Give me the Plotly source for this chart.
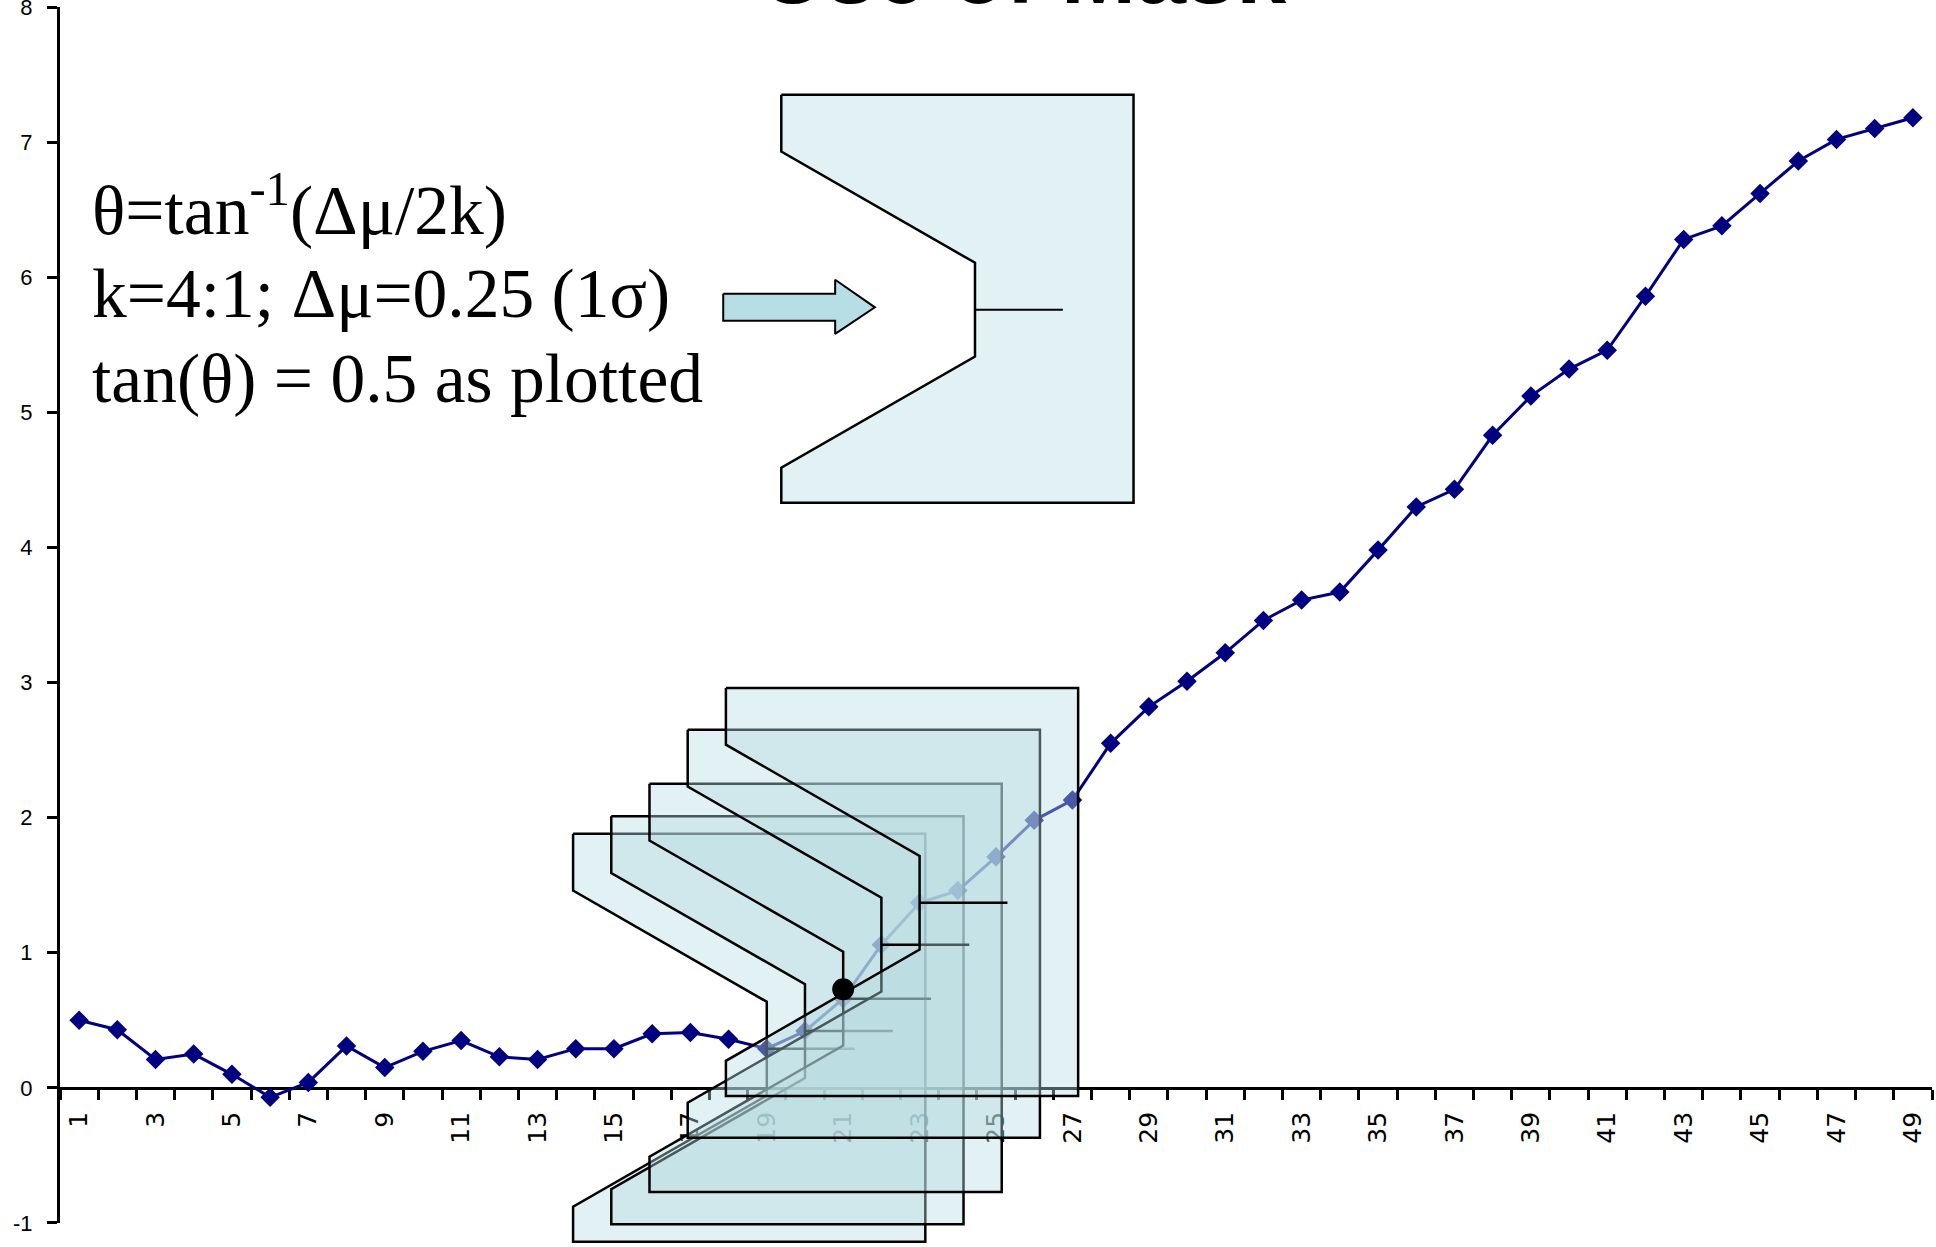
import plotly.graph_objects as go

# ---------------- data ----------------
categories = list(range(1, 50))
values = [0.50, 0.43, 0.21, 0.25, 0.10, -0.07, 0.04, 0.31, 0.15, 0.27,
          0.35, 0.23, 0.21, 0.29, 0.29, 0.40, 0.41, 0.36, 0.29, 0.42,
          0.66, 1.06, 1.37, 1.46, 1.71, 1.98, 2.13, 2.55, 2.82, 3.01,
          3.22, 3.46, 3.61, 3.67, 3.98, 4.30, 4.43, 4.83, 5.12, 5.32,
          5.46, 5.86, 6.28, 6.38, 6.62, 6.86, 7.02, 7.10, 7.18]
tick_label_vals = list(range(1, 50, 2))
tick_labels = [str(v) for v in tick_label_vals]
y_ticks = list(range(-1, 9))
y_tick_labels = [str(v) for v in y_ticks]

mask_points = [19, 20, 21, 22, 23]       # V-mask placed at these observations
highlight_x = [21]                        # signalled point
highlight_y = [0.73]
template_vertex = (24.45, 5.76)           # free-standing illustrative mask

title_text = "Use of Mask"
note_lines = ["θ=tan<sup>-1</sup>(Δμ/2k)",
              "k=4:1; Δμ=0.25 (1σ)",
              "tan(θ) = 0.5 as plotted"]

# ---------------- geometry / style ----------------
YMIN, YMAX = -1.178, 8.0
XMIN, XMAX = 0.5, 49.5
MASK_L, MASK_R = 5.07, 4.15        # horizontal extent left/right of vertex (categories)
MASK_T, MASK_B = 1.59, 1.43        # vertical extent above/below vertex
ARM_OUT, ARM_IN = 1.17, 0.347      # arm offsets at left edge / at vertex
LEAD = 2.30                        # lead-distance line length
MASK_FILL = "rgba(183,221,224,0.40)"
ARROW = [(17.86, 5.877), (20.79, 5.877), (20.79, 5.981), (21.83, 5.777),
         (20.79, 5.581), (20.79, 5.677), (17.86, 5.677)]

NAVY = "#000080"


def mask_polygon(xv, yv):
    xs = [xv - MASK_L, xv + MASK_R, xv + MASK_R, xv - MASK_L, xv - MASK_L,
          xv, xv, xv - MASK_L, xv - MASK_L]
    ys = [yv + MASK_T, yv + MASK_T, yv - MASK_B, yv - MASK_B, yv - ARM_OUT,
          yv - ARM_IN, yv + ARM_IN, yv + ARM_OUT, yv + MASK_T]
    return xs, ys


fig = go.Figure()

# data series
fig.add_trace(go.Scatter(
    x=categories, y=values, mode="lines+markers",
    line=dict(color=NAVY, width=3),
    marker=dict(symbol="diamond", size=15, color=NAVY),
    hoverinfo="x+y", showlegend=False))

# sequence of V-masks
for p in mask_points:
    xv, yv = p, values[p - 1]
    xs, ys = mask_polygon(xv, yv)
    fig.add_trace(go.Scatter(x=xs, y=ys, mode="lines", fill="toself",
                             fillcolor=MASK_FILL,
                             line=dict(color="black", width=2.5),
                             hoverinfo="skip", showlegend=False))
    fig.add_trace(go.Scatter(x=[xv, xv + LEAD], y=[yv, yv], mode="lines",
                             line=dict(color="black", width=2.5),
                             hoverinfo="skip", showlegend=False))

# template mask
tx, ty = template_vertex
xs, ys = mask_polygon(tx, ty)
fig.add_trace(go.Scatter(x=xs, y=ys, mode="lines", fill="toself",
                         fillcolor=MASK_FILL,
                         line=dict(color="black", width=2.5),
                         hoverinfo="skip", showlegend=False))
fig.add_trace(go.Scatter(x=[tx, tx + LEAD], y=[ty, ty], mode="lines",
                         line=dict(color="black", width=2),
                         hoverinfo="skip", showlegend=False))

# block arrow
fig.add_trace(go.Scatter(x=[p[0] for p in ARROW] + [ARROW[0][0]],
                         y=[p[1] for p in ARROW] + [ARROW[0][1]],
                         mode="lines", fill="toself",
                         fillcolor="rgb(183,222,228)",
                         line=dict(color="black", width=2),
                         hoverinfo="skip", showlegend=False))

# highlighted point
fig.add_trace(go.Scatter(x=highlight_x, y=highlight_y, mode="markers",
                         marker=dict(color="black", size=22),
                         hoverinfo="skip", showlegend=False))

# dummy trace to host the visible y axis
fig.add_trace(go.Scatter(x=[], y=[], yaxis="y2", showlegend=False,
                         hoverinfo="skip"))

pos0 = (0 - YMIN) / (YMAX - YMIN)
dom2 = (-1 - YMIN) / (YMAX - YMIN)
boundaries = [k + 0.5 for k in range(0, 50)]

fig.update_layout(
    width=1936, height=1247,
    margin=dict(l=60, r=4, t=7, b=0, autoexpand=False),
    paper_bgcolor="white", plot_bgcolor="rgba(0,0,0,0)",
    showlegend=False,
    xaxis=dict(range=[XMIN, XMAX], domain=[0, 1], anchor="free",
               position=pos0, showline=True, linecolor="black",
               linewidth=3, layer="below traces", showgrid=False,
               automargin=False,
               zeroline=False, tickmode="array", tickvals=tick_label_vals,
               ticktext=tick_labels, ticks="", tickangle=-90,
               ticklabelstandoff=12,
               tickfont=dict(family="DejaVu Sans", size=25, color="black"),
               minor=dict(tickmode="array", tickvals=boundaries,
                          ticks="outside", ticklen=10, tickwidth=2.5,
                          tickcolor="black", showgrid=False)),
    yaxis=dict(range=[YMIN, YMAX], domain=[0, 1], visible=False,
               automargin=False, fixedrange=True),
    yaxis2=dict(range=[-1, YMAX], domain=[dom2, 1], anchor="x",
                automargin=False, ticklabeloverflow="allow",
                showline=True, linecolor="black", linewidth=3,
                ticks="outside", ticklen=10, tickwidth=2.5,
                tickcolor="black", tickmode="array", tickvals=y_ticks,
                ticktext=y_tick_labels,
                showgrid=False, zeroline=False, ticklabelstandoff=10,
                tickfont=dict(family="Liberation Sans, Arial", size=22,
                              color="black")),
)

# title (partly cut off at the top, as in the original)
fig.add_annotation(text="<b>" + title_text + "</b>", xref="paper", yref="paper",
                   x=0.515, y=1, xanchor="center", yanchor="bottom",
                   yshift=-17, showarrow=False,
                   font=dict(family="Liberation Sans, Arial", size=90,
                             color="black"))

# explanatory text
note_y = [0.8036, 0.7359, 0.6677]
for txt, yy in zip(note_lines, note_y):
    fig.add_annotation(text=txt, xref="paper", yref="paper", x=0.016, y=yy,
                       xanchor="left", yanchor="bottom", showarrow=False,
                       font=dict(family="Liberation Serif, Times New Roman",
                                 size=69.5, color="black"))

fig.write_html("out.html")
